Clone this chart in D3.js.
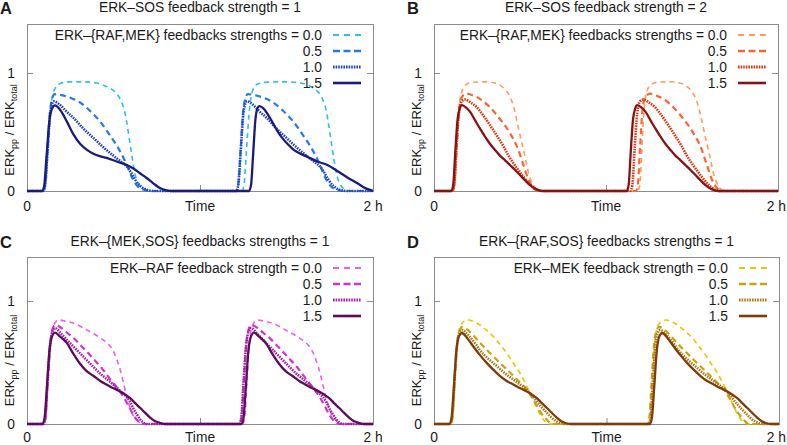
<!DOCTYPE html>
<html>
<head>
<meta charset="utf-8">
<script src="https://cdn.jsdelivr.net/npm/d3@7"></script>
<style>
  body { margin: 0; background: #fff; }
  svg { display: block; font-family: "Liberation Sans", Arial, sans-serif; }
</style>
</head>
<body>
<svg id="chart" width="787" height="445"></svg>
<script>
"use strict";

// data: time in minutes (0 .. 2 h), ERKpp / ERKtotal
const strengths = ["0.0", "0.5", "1.0", "1.5"];
const xTickLabels = ["0", "Time", "2 h"];
const yTickLabels = [0, 1];

const titles = ["ERK\u2013SOS feedback strength = 1", "ERK\u2013SOS feedback strength = 2",
                "ERK\u2013{MEK,SOS} feedbacks strengths = 1", "ERK\u2013{RAF,SOS} feedbacks strengths = 1"];
const legendHeads = ["ERK\u2013{RAF,MEK} feedbacks strengths = ", "ERK\u2013{RAF,MEK} feedbacks strengths = ",
                     "ERK\u2013RAF feedback strength = ", "ERK\u2013MEK feedback strength = "];

// panel A
const a00 = [[0,0],[5.8,0],[6.5,0.05],[7.3,0.35],[8.2,0.7],[9,0.82],[10,0.88],[11.4,0.91],[14,0.925],[20,0.925],[24,0.915],[27.6,0.885],[30.5,0.84],[32.5,0.77],[33.8,0.68],[34.6,0.58],[35.5,0.44],[36.5,0.28],[37.6,0.13],[38.8,0.05],[40.3,0.015],[42,0.003],[43,0],
  [74.5,0],[75.3,0.06],[76,0.3],[77,0.65],[78,0.83],[79.5,0.9],[82,0.92],[90,0.925],[95,0.915],[98,0.89],[100.5,0.85],[102.5,0.78],[103.7,0.69],[104.5,0.58],[105.3,0.45],[106.3,0.29],[107.4,0.14],[108.7,0.05],[110.2,0.015],[112,0],[120,0]];
const a05 = [[0,0],[5.6,0],[6.3,0.06],[7.1,0.35],[8,0.68],[8.8,0.79],[9.6,0.82],[11.4,0.815],[15,0.79],[18.4,0.75],[21.8,0.68],[25.3,0.59],[28.8,0.47],[31.5,0.37],[33.5,0.28],[35,0.2],[36.3,0.12],[38,0.05],[40.3,0.012],[43,0],
  [72.6,0],[73.3,0.06],[74.1,0.35],[75,0.68],[75.8,0.79],[76.6,0.82],[78.4,0.815],[82,0.79],[85.4,0.75],[88.8,0.68],[92.3,0.59],[95.8,0.47],[98.5,0.37],[100.5,0.28],[102,0.2],[103.3,0.12],[105,0.05],[107.3,0.012],[110,0],[120,0]];
const a10 = [[0,0],[5.6,0],[6.3,0.06],[7.1,0.33],[8,0.65],[8.7,0.74],[9.3,0.76],[11.4,0.73],[13.8,0.67],[16.1,0.62],[19.5,0.53],[23,0.45],[26.5,0.37],[29.9,0.3],[32.5,0.25],[34.5,0.21],[36,0.16],[37.4,0.1],[39.2,0.045],[41.5,0.01],[44,0],
  [72.6,0],[73.3,0.06],[74.1,0.33],[75,0.65],[75.7,0.74],[76.3,0.76],[78.4,0.73],[80.8,0.67],[83.1,0.62],[86.5,0.53],[90,0.45],[93.5,0.37],[96.9,0.3],[99.5,0.25],[101.5,0.21],[103,0.16],[104.4,0.1],[106.2,0.045],[108.5,0.01],[111,0],[120,0]];
const a15 = [[0,0],[5.3,0],[6,0.05],[6.8,0.3],[7.8,0.6],[8.7,0.7],[9.7,0.725],[11.4,0.69],[13.8,0.59],[16.1,0.48],[18.4,0.4],[20.7,0.35],[23,0.315],[25.3,0.295],[27.6,0.28],[31.1,0.25],[34.6,0.22],[36.9,0.19],[39.2,0.15],[41.5,0.11],[43.8,0.065],[46.1,0.025],[48.4,0.006],[50,0],
  [77,0],[77.7,0.05],[78.4,0.3],[79.2,0.6],[79.9,0.7],[80.6,0.72],[82,0.7],[83.5,0.65],[85.2,0.58],[86.8,0.51],[88.5,0.45],[90.3,0.4],[92,0.36],[93.7,0.33],[97.2,0.29],[100.7,0.25],[104.2,0.22],[107.6,0.17],[111.1,0.115],[114.6,0.065],[117.5,0.022],[119.8,0.003],[120,0]];

// panel B
const b00 = [[0,0],[6.6,0],[7.3,0.05],[8.1,0.4],[9,0.75],[10,0.86],[11.4,0.905],[13.7,0.922],[18,0.925],[21.9,0.91],[24.8,0.86],[26.5,0.8],[27.7,0.72],[28.6,0.63],[29.4,0.54],[30.3,0.44],[31.2,0.35],[32.1,0.25],[32.9,0.16],[33.8,0.09],[34.7,0.045],[35.8,0.01],[37,0],
  [71,0],[71.8,0.05],[72.6,0.4],[73.5,0.75],[74.5,0.86],[75.9,0.905],[78.2,0.922],[82.5,0.925],[86.4,0.91],[89.3,0.86],[91,0.8],[92.2,0.72],[93.1,0.63],[93.9,0.54],[94.8,0.44],[95.7,0.35],[96.6,0.25],[97.4,0.16],[98.3,0.09],[99.2,0.045],[100.3,0.01],[101.5,0],[120,0]];
const b05 = [[0,0],[6.4,0],[7.1,0.05],[7.9,0.38],[8.8,0.7],[9.8,0.8],[11.4,0.825],[13.5,0.81],[16,0.78],[19.5,0.71],[23,0.61],[26.5,0.49],[29.4,0.35],[31.2,0.22],[32.9,0.1],[34.7,0.025],[36.5,0],
  [70.4,0],[71.1,0.05],[71.9,0.38],[72.8,0.7],[73.8,0.8],[75.4,0.825],[77.5,0.81],[80,0.78],[83.5,0.71],[87,0.61],[90.5,0.49],[93.4,0.35],[95.2,0.22],[96.9,0.1],[98.7,0.025],[100.5,0],[120,0]];
const b10 = [[0,0],[6.3,0],[7,0.05],[7.8,0.36],[8.7,0.66],[9.7,0.76],[10.8,0.775],[12.8,0.75],[14.9,0.71],[17.2,0.64],[19.5,0.56],[21.9,0.47],[24.2,0.38],[26,0.3],[27.7,0.235],[29.5,0.175],[31.2,0.12],[33.5,0.055],[35.8,0.012],[37.5,0],
  [68.5,0],[69.2,0.05],[70,0.36],[70.9,0.66],[71.9,0.76],[73,0.775],[75,0.75],[77.1,0.71],[79.4,0.64],[81.7,0.56],[84.1,0.47],[86.4,0.38],[88.2,0.3],[89.9,0.235],[91.7,0.175],[93.4,0.12],[95.7,0.055],[98,0.012],[99.7,0],[120,0]];
const b15 = [[0,0],[6,0],[6.7,0.05],[7.4,0.32],[8.2,0.6],[9,0.7],[9.7,0.727],[11,0.71],[12.6,0.67],[14.3,0.6],[16,0.53],[17.8,0.46],[19.5,0.4],[21.2,0.35],[23,0.3],[24.8,0.26],[26.5,0.22],[28.2,0.18],[30,0.135],[31.8,0.09],[33.5,0.05],[35.8,0.014],[38,0],
  [67.2,0],[67.9,0.05],[68.6,0.32],[69.4,0.6],[70.2,0.7],[70.9,0.727],[72.2,0.71],[73.8,0.67],[75.5,0.6],[77.2,0.53],[79,0.46],[80.7,0.4],[82.4,0.35],[84.2,0.3],[86,0.26],[87.7,0.22],[89.4,0.18],[91.2,0.135],[93,0.09],[94.7,0.05],[97,0.014],[99.2,0],[120,0]];

// panel C
const c00 = [[0,0],[5.8,0],[6.5,0.05],[7.3,0.35],[8.2,0.68],[9.2,0.8],[10.9,0.846],[13.5,0.835],[16.1,0.82],[20.7,0.765],[25.4,0.7],[28.9,0.63],[30.2,0.58],[31.2,0.52],[32.1,0.46],[32.9,0.39],[33.8,0.3],[34.6,0.22],[35.5,0.15],[36.4,0.09],[38.1,0.03],[40,0],
  [74.8,0],[75.5,0.05],[76.3,0.35],[77.2,0.68],[78.2,0.8],[79.9,0.846],[82.5,0.835],[85.1,0.82],[89.7,0.765],[94.4,0.7],[97.9,0.63],[99.2,0.58],[100.2,0.52],[101.1,0.46],[101.9,0.39],[102.8,0.3],[103.6,0.22],[104.5,0.15],[105.4,0.09],[107.1,0.03],[109,0],[120,0]];
const c05 = [[0,0],[5.7,0],[6.4,0.05],[7.2,0.35],[8.1,0.66],[9,0.78],[9.7,0.805],[12,0.78],[14,0.74],[16.1,0.7],[18.4,0.645],[20.7,0.59],[23,0.53],[25.4,0.47],[27.7,0.4],[30,0.33],[32,0.27],[33.5,0.22],[34.7,0.17],[35.8,0.12],[37,0.07],[38.1,0.035],[39.5,0.008],[40.5,0],
  [73.7,0],[74.4,0.05],[75.2,0.35],[76.1,0.66],[77,0.78],[77.7,0.805],[80,0.78],[82,0.74],[84.1,0.7],[86.4,0.645],[88.7,0.59],[91,0.53],[93.4,0.47],[95.7,0.4],[98,0.33],[100,0.27],[101.5,0.22],[102.7,0.17],[103.8,0.12],[105,0.07],[106.1,0.035],[107.5,0.008],[108.5,0],[120,0]];
const c10 = [[0,0],[5.6,0],[6.3,0.05],[7.1,0.34],[8,0.64],[9,0.76],[9.7,0.78],[12,0.73],[14,0.68],[16.1,0.63],[18.4,0.575],[20.7,0.52],[23,0.465],[25.4,0.41],[27.7,0.365],[30,0.32],[32.3,0.27],[34.6,0.22],[36,0.17],[37,0.12],[38.2,0.075],[39.3,0.035],[40.5,0.01],[41.5,0],
  [73.6,0],[74.3,0.05],[75.1,0.34],[76,0.64],[77,0.76],[77.7,0.78],[80,0.73],[82,0.68],[84.1,0.63],[86.4,0.575],[88.7,0.52],[91,0.465],[93.4,0.41],[95.7,0.365],[98,0.32],[100.3,0.27],[102.6,0.22],[104,0.17],[105,0.12],[106.2,0.075],[107.3,0.035],[108.5,0.01],[109.5,0],[120,0]];
const c15 = [[0,0],[5.4,0],[6.1,0.05],[6.9,0.3],[7.8,0.6],[8.8,0.72],[9.7,0.743],[11.5,0.71],[13.8,0.66],[16.1,0.57],[18.4,0.49],[20.7,0.43],[23.1,0.39],[25.4,0.35],[27.7,0.32],[30,0.29],[32.3,0.265],[34,0.24],[35.8,0.21],[37.5,0.17],[39.3,0.13],[41,0.09],[42.8,0.05],[44.5,0.022],[46.2,0.008],[48,0],
  [74.4,0],[75.1,0.05],[75.9,0.3],[76.8,0.6],[77.8,0.72],[78.7,0.743],[80.5,0.71],[82.8,0.66],[85.1,0.57],[87.4,0.49],[89.7,0.43],[92.1,0.39],[94.4,0.35],[96.7,0.32],[99,0.29],[101.3,0.265],[103,0.24],[104.8,0.21],[106.5,0.17],[108.3,0.13],[110,0.09],[111.8,0.05],[113.5,0.022],[115.2,0.008],[117,0],[120,0]];

// panel D
const d00 = [[0,0],[5.8,0],[6.5,0.05],[7.3,0.35],[8.2,0.68],[9.2,0.8],[10.5,0.835],[12,0.846],[14,0.83],[16,0.805],[18.4,0.76],[20.7,0.71],[23,0.645],[25.3,0.575],[27.7,0.49],[30,0.41],[31.8,0.33],[33.5,0.25],[34.7,0.19],[35.8,0.13],[37,0.075],[38.1,0.035],[39.3,0.01],[40.5,0],
  [74.5,0],[75.2,0.05],[76,0.35],[76.9,0.68],[77.9,0.8],[79.2,0.835],[80.7,0.846],[82.7,0.83],[84.7,0.805],[87.1,0.76],[89.4,0.71],[91.7,0.645],[94,0.575],[96.4,0.49],[98.7,0.41],[100.5,0.33],[102.2,0.25],[103.4,0.19],[104.5,0.13],[105.7,0.075],[106.8,0.035],[108,0.01],[109.2,0],[120,0]];
const d05 = [[0,0],[5.7,0],[6.4,0.05],[7.2,0.35],[8.1,0.66],[9.1,0.77],[9.7,0.79],[12,0.76],[14.5,0.7],[16,0.66],[18.9,0.59],[21.9,0.52],[24.8,0.455],[27.7,0.39],[30,0.335],[32.3,0.28],[34,0.22],[35.8,0.145],[37.2,0.09],[38.7,0.05],[40,0.015],[41.2,0],
  [74.2,0],[74.9,0.05],[75.7,0.35],[76.6,0.66],[77.6,0.77],[78.2,0.79],[80.5,0.76],[83,0.7],[84.5,0.66],[87.4,0.59],[90.4,0.52],[93.3,0.455],[96.2,0.39],[98.5,0.335],[100.8,0.28],[102.5,0.22],[104.3,0.145],[105.7,0.09],[107.2,0.05],[108.5,0.015],[109.7,0],[120,0]];
const d10 = [[0,0],[5.6,0],[6.3,0.05],[7.1,0.34],[8,0.64],[9,0.75],[9.7,0.765],[12,0.72],[14.5,0.65],[16,0.6],[18.9,0.53],[21.9,0.47],[24.8,0.41],[27.7,0.36],[30,0.32],[32.3,0.28],[34,0.235],[35.8,0.18],[37.5,0.135],[39.3,0.09],[41,0.05],[42.8,0.02],[44.5,0.005],[45.5,0],
  [74.6,0],[75.3,0.05],[76.1,0.34],[77,0.64],[78,0.75],[78.7,0.765],[81,0.72],[83.5,0.65],[85,0.6],[87.9,0.53],[90.9,0.47],[93.8,0.41],[96.7,0.36],[99,0.32],[101.3,0.28],[103,0.235],[104.8,0.18],[106.5,0.135],[108.3,0.09],[110,0.05],[111.8,0.02],[113.5,0.005],[114.5,0],[120,0]];
const d15 = [[0,0],[5.4,0],[6.1,0.05],[6.9,0.3],[7.8,0.6],[8.8,0.72],[9.7,0.74],[11.5,0.7],[13.7,0.63],[16,0.56],[18.4,0.495],[20.7,0.44],[23,0.39],[25.3,0.35],[27.7,0.32],[30,0.29],[32.3,0.265],[34,0.24],[35.8,0.21],[37.5,0.17],[39.3,0.13],[41,0.09],[42.8,0.05],[44.3,0.022],[45.7,0.008],[47.5,0],
  [75.1,0],[75.8,0.05],[76.6,0.3],[77.5,0.6],[78.5,0.72],[79.4,0.74],[81.2,0.7],[83.4,0.63],[85.7,0.56],[88.1,0.495],[90.4,0.44],[92.7,0.39],[95,0.35],[97.4,0.32],[99.7,0.29],[102,0.265],[103.7,0.24],[105.5,0.21],[107.2,0.17],[109,0.13],[110.7,0.09],[112.5,0.05],[114,0.022],[115.4,0.008],[117.2,0],[120,0]];


// settings
const setting = {
    width: 787,
    panels: [
        { letter: "A", left: 27,  right: 373, top: 24,  bottom: 191, ymax: 1.415, titleY: 11.5, letterY: 13.5, xlabY: 211, series: [a00, a05, a10, a15],
          colors: ["#35b9f7", "#2479ec", "#2446c8", "#1b1b7c"] },
        { letter: "B", left: 434, right: 778, top: 24,  bottom: 191, ymax: 1.415, titleY: 11.5, letterY: 13.5, xlabY: 211, series: [b00, b05, b10, b15],
          colors: ["#ff9c5e", "#fa6530", "#dc3a14", "#861314"] },
        { letter: "C", left: 27,  right: 373, top: 257, bottom: 424, ymax: 1.358, titleY: 246, letterY: 247.5, xlabY: 442, series: [c00, c05, c10, c15],
          colors: ["#f05cf0", "#cc35c8", "#a522a2", "#5c0c5e"] },
        { letter: "D", left: 434, right: 779, top: 257, bottom: 424, ymax: 1.358, titleY: 246, letterY: 247.5, xlabY: 442, series: [d00, d05, d10, d15],
          colors: ["#e3c60a", "#c9a20c", "#b07a22", "#7e3c0c"] }
    ],
    styles: [
        { width: 1.6, dash: "5,4",    legendDash: "6,5" },
        { width: 2.2, dash: "6,4",    legendDash: "7,3.5" },
        { width: 2.6, dash: "1.6,1",  legendDash: "1.6,1" },
        { width: 2.3, dash: null,     legendDash: null }
    ],
    font: 13.8,
    labelFont: 13,
    subFont: 9,
    frame: "#8c8c8c",
    text: "#1a1a1a"
};


const svg = d3.select("#chart");

function drawPanel(p, i) {

    const scaleX = d3.scaleLinear().domain([0, 120]).range([p.left, p.right]);
    const scaleY = d3.scaleLinear().domain([0, p.ymax]).range([p.bottom, p.top]);

    const g = svg.append("g").attr("class", "panel");

    // panel letter + title
    g.append("text")
    .attr("x", p.left - 27)
    .attr("y", p.letterY)
    .attr("font-size", 16.5)
    .attr("font-weight", "bold")
    .attr("fill", setting.text)
    .text(p.letter);

    g.append("text")
    .attr("x", (p.left + p.right) / 2)
    .attr("y", p.titleY)
    .attr("text-anchor", "middle")
    .attr("font-size", setting.font)
    .attr("fill", setting.text)
    .text(titles[i]);

    // clip
    g.append("clipPath")
    .attr("id", "clip" + i)
    .append("rect")
    .attr("x", p.left)
    .attr("y", p.top)
    .attr("width", p.right - p.left)
    .attr("height", p.bottom - p.top + 2);

    // y axis ticks (inward)
    const yAxis = d3.axisLeft(scaleY).tickValues(yTickLabels).tickSizeInner(-6).tickSizeOuter(0).tickPadding(12)
    .tickFormat(d3.format("d"));
    const ya = g.append("g").attr("transform", `translate(${p.left},0)`).call(yAxis);
    ya.select(".domain").remove();
    ya.selectAll("line").attr("stroke", setting.frame);
    ya.selectAll("text").attr("font-size", setting.font).attr("font-family", null).attr("fill", setting.text).attr("dy", "0.36em");

    const yAxisR = d3.axisRight(scaleY).tickValues([1]).tickSizeInner(-6).tickSizeOuter(0).tickFormat("");
    const yr = g.append("g").attr("transform", `translate(${p.right},0)`).call(yAxisR);
    yr.select(".domain").remove();
    yr.selectAll("line").attr("stroke", setting.frame);

    // x axis
    const xAxis = d3.axisBottom(scaleX).tickValues([60]).tickSizeInner(-6).tickSizeOuter(0).tickFormat("");
    const xa = g.append("g").attr("transform", `translate(0,${p.bottom})`).call(xAxis);
    xa.select(".domain").remove();
    xa.selectAll("line").attr("stroke", setting.frame);

    g.selectAll("text.xlab")
    .data([0, 60, 120])
    .join("text")
    .attr("class", "xlab")
    .attr("x", d => scaleX(d))
    .attr("y", p.xlabY)
    .attr("text-anchor", "middle")
    .attr("font-size", setting.font)
    .attr("fill", setting.text)
    .text((d, k) => xTickLabels[k])
    .each(function() {
        // keep the right-most label inside the picture
        const half = this.getComputedTextLength() / 2;
        const x = +d3.select(this).attr("x");
        if (x + half > setting.width - 1) d3.select(this).attr("x", setting.width - 1 - half);
    });

    // y label
    const yl = g.append("text")
    .attr("text-anchor", "middle")
    .attr("font-size", setting.labelFont)
    .attr("fill", setting.text)
    .attr("transform", `translate(${p.left - 13}, ${(scaleY(0) + scaleY(1)) / 2 - 2}) rotate(-90)`);
    yl.append("tspan").text("ERK");
    yl.append("tspan").attr("font-size", setting.subFont).attr("dy", 3).text("pp");
    yl.append("tspan").attr("dy", -3).text(" / ERK");
    yl.append("tspan").attr("font-size", setting.subFont).attr("dy", 3).text("total");

    // frame
    g.append("rect")
    .attr("x", p.left + 0.5)
    .attr("y", p.top + 0.5)
    .attr("width", p.right - p.left)
    .attr("height", p.bottom - p.top)
    .attr("fill", "none")
    .attr("stroke", setting.frame)
    .attr("stroke-width", 1);

    // lines
    const line = d3.line()
    .x(d => scaleX(d[0]))
    .y(d => scaleY(d[1]))
    .curve(d3.curveMonotoneX);

    const lines = g.append("g").attr("clip-path", `url(#clip${i})`);
    p.series.forEach((s, k) => {
        lines.append("path")
        .datum(s)
        .attr("d", line)
        .attr("fill", "none")
        .attr("stroke", p.colors[k])
        .attr("stroke-width", setting.styles[k].width)
        .attr("stroke-dasharray", setting.styles[k].dash)
        .attr("stroke-linejoin", "round");
    });

    // legend
    const leg = g.append("g").attr("class", "legend");
    strengths.forEach((s, k) => {
        const cy = p.top + 11 + k * 16;
        leg.append("text")
        .attr("x", p.right - 51)
        .attr("y", cy + 5)
        .attr("text-anchor", "end")
        .attr("font-size", setting.font)
        .attr("fill", setting.text)
        .text(k == 0 ? legendHeads[i] + s : s);
        leg.append("line")
        .attr("x1", p.right - 40)
        .attr("x2", p.right - 12)
        .attr("y1", cy)
        .attr("y2", cy)
        .attr("stroke", p.colors[k])
        .attr("stroke-width", setting.styles[k].width + 0.3)
        .attr("stroke-dasharray", setting.styles[k].legendDash);
    });
}

setting.panels.forEach(drawPanel);
</script>
</body>
</html>
